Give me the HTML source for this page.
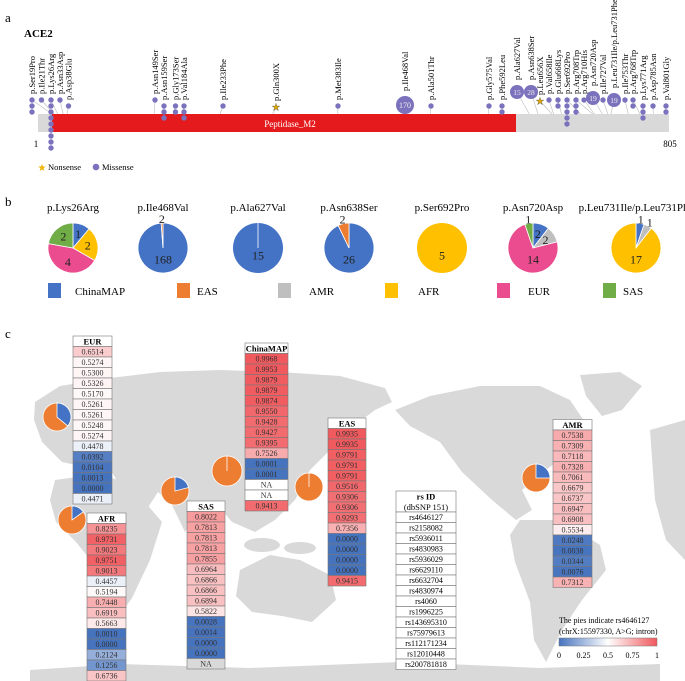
<!DOCTYPE html>
<html><head><meta charset="utf-8"><style>
html,body{margin:0;padding:0;background:#fff;}
svg{display:block;font-family:"Liberation Serif",serif;}
</style></head><body>
<svg id="fig" width="685" height="681" viewBox="0 0 685 681" xmlns="http://www.w3.org/2000/svg">
<g id="map" fill="#d9d9d9">
<polygon points="35,402 60,386 110,378 160,372 220,370 280,372 340,376 385,388 392,402 375,410 355,425 335,445 310,470 295,500 275,520 255,532 232,522 215,502 200,510 185,532 172,505 158,492 145,512 125,495 112,472 90,468 62,462 42,442 34,420"/>
<polygon points="55,480 100,474 130,484 150,508 162,522 150,560 132,598 115,622 102,600 92,562 76,542 56,522 50,500"/>
<polygon points="240,570 270,555 300,560 330,575 336,600 312,622 282,616 252,612 236,596"/>
<ellipse cx="262" cy="545" rx="18" ry="7"/><ellipse cx="300" cy="548" rx="16" ry="6"/>
<polygon points="395,410 430,396 480,386 540,386 570,400 590,430 572,450 546,470 522,490 532,510 516,520 492,500 462,472 440,442 410,426"/>
<polygon points="580,375 620,372 642,386 622,410 602,416 586,396"/>
<polygon points="520,520 560,520 600,545 606,570 582,600 562,630 546,662 534,640 530,602 515,562 510,535"/>
<polygon points="30,670 120,664 250,668 400,662 540,668 660,664 660,681 30,681"/>
<polygon points="650,430 685,420 685,560 666,540 655,500"/>
</g>
<g id="panelA"></g>
<g id="panelB"></g>
<g id="panelC"></g>
</svg>
<script>
const NS="http://www.w3.org/2000/svg";
function mk(parent,tag,attrs,text){const e=document.createElementNS(NS,tag);for(const k in attrs)e.setAttribute(k,attrs[k]);if(text!==undefined)e.textContent=text;parent.appendChild(e);return e;}

// ---------- Panel a data ----------
const mutLabels=["p.Ser19Pro","p.Ile21Thr","p.Lys26Arg","p.Asn33Asp","p.Asp38Glu","p.Asn149Ser","p.Asn159Ser","p.Gly173Ser","p.Val184Ala","p.Ile233Phe","p.Gln300X","p.Met383Ile","p.Ile468Val","p.Ala501Thr","p.Gly575Val","p.Phe592Leu","p.Ala627Val","p.Asn638Ser","p.Leu656X","p.Val658Ile","p.Glu668Lys","p.Ser692Pro","p.Arg708Trp","p.Arg710His","p.Asn720Asp","p.Ile727Val","p.Leu731Ile/p.Leu731Phe","p.Ile753Thr","p.Arg768Trp","p.Lys771Arg","p.Asp785Asn","p.Val801Gly"];
const mutPos=[19,21,26,33,38,149,159,173,184,233,300,383,468,501,575,592,627,638,656,658,668,692,708,710,720,727,731,753,768,771,785,801];
const mutCounts=[3,1,9,1,1,1,3,2,3,1,1,1,170,1,1,2,15,28,1,1,2,5,3,1,19,1,19,1,2,3,1,2];
const mutType=["m","m","m","m","m","m","m","m","m","m","n","m","m","m","m","m","m","m","n","m","m","m","m","m","m","m","m","m","m","m","m","m"];
const mutLayoutX=[32,41.5,51,60,68.5,155,164,175.5,184,223,276,338,405,431,489,502,517,531,540,549,558,567,576,584,593,603,614,625,633,643,653,666];
const mutTop=[100,100,100,100,106,100,106,106,106,106,107,106,105,106,106,106,92,92,101,100,100,100,100,100,98,100,100,100,100,106,106,106];
const protLen=805;
const pa=document.getElementById('panelA');
mk(pa,'text',{x:5,y:22,'font-size':13,},'a');
mk(pa,'text',{x:24,y:37,'font-size':11,'font-weight':'bold',},'ACE2');
const bx0=38,bx1=669;
function px(aa){return bx0+(aa-1)/(protLen-1)*(bx1-bx0);}
mk(pa,'rect',{x:bx0,y:114,width:bx1-bx0,height:18,fill:'#d9d9d9',});
mk(pa,'rect',{x:52,y:114,width:464,height:18,fill:'#e41a1c',});
mk(pa,'text',{x:290,y:127,'font-size':9,fill:'#fff','text-anchor':'middle',},'Peptidase_M2');
mk(pa,'text',{x:36,y:147,'font-size':9,'text-anchor':'middle',},'1');
mk(pa,'text',{x:670,y:147,'font-size':9,'text-anchor':'middle',},'805');
const purple='#7b72bd';
mutLabels.forEach((lab,i)=>{
  const x=mutLayoutX[i],y0=mutTop[i],c=mutCounts[i];
  const g=mk(pa,'g',{});
  
  
  mk(g,'line',{x1:x,y1:y0,x2:px(mutPos[i]),y2:114,stroke:'#bbb','stroke-width':0.6});
  let labBottom;
  if(mutType[i]==='n'){
    mk(g,'text',{x:x,y:y0+3.5,'font-size':10,fill:'#e0a800',stroke:'#555','stroke-width':0.3,'text-anchor':'middle'},'★');
    labBottom=y0-6;
  } else if(c>=10){
    const r=c>=100?9:7;
    mk(g,'circle',{cx:x,cy:y0,r:r,fill:purple});
    mk(g,'text',{x:x,y:y0+3,'font-size':r>8?8:7.5,fill:'#eee','text-anchor':'middle'},String(c));
    labBottom=y0-r-5;
  } else {
    for(let k=0;k<c;k++) mk(g,'circle',{cx:x,cy:y0+k*6,r:2.7,fill:purple});
    labBottom=y0-6;
  }
  mk(g,'text',{x:x+3,y:labBottom,'font-size':8.5,transform:`rotate(-90 ${x+3} ${labBottom})`},lab);
});
const lg=mk(pa,'g',{});


mk(lg,'text',{x:42,y:171,'font-size':10,fill:'#f0b400','text-anchor':'middle'},'★');
mk(lg,'text',{x:48,y:170,'font-size':8.5},'Nonsense');
mk(lg,'circle',{cx:96,cy:167,r:3.3,fill:purple});
mk(lg,'text',{x:102,y:170,'font-size':8.5},'Missense');

// ---------- Panel b data ----------
const popNames=["ChinaMAP","EAS","AMR","AFR","EUR","SAS"];
const popColors=["#4472c4","#ed7d31","#bfbfbf","#ffc000","#ea4c8f","#70ad47"];
const pieTitles=["p.Lys26Arg","p.Ile468Val","p.Ala627Val","p.Asn638Ser","p.Ser692Pro","p.Asn720Asp","p.Leu731Ile/p.Leu731Phe"];
const pieLys26=[1,0,0,2,4,2];
const pieIle468=[168,2,0,0,0,0];
const pieAla627=[15,0,0,0,0,0];
const pieAsn638=[26,2,0,0,0,0];
const pieSer692=[0,0,0,5,0,0];
const pieAsn720=[2,0,2,0,14,1];
const pieLeu731=[1,0,1,17,0,0];
const pieSets=[pieLys26,pieIle468,pieAla627,pieAsn638,pieSer692,pieAsn720,pieLeu731];
const pieCx=[73,163,258,349,442,533,636];
const pb=document.getElementById('panelB');
mk(pb,'text',{x:5,y:206,'font-size':13,},'b');
function arcPath(cx,cy,r,a0,a1){
  const p=a=>[cx+r*Math.sin(a),cy-r*Math.cos(a)];
  const [x0,y0]=p(a0),[x1,y1]=p(a1);
  return `M${cx},${cy}L${x0},${y0}A${r},${r} 0 ${a1-a0>Math.PI?1:0} 1 ${x1},${y1}Z`;
}
pieSets.forEach((vals,i)=>{
  const cx=pieCx[i],cy=248,r=25;
  const g=mk(pb,'g',{});
  
  
  mk(g,'text',{x:cx,y:211,'font-size':11,'text-anchor':'middle'},pieTitles[i]);
  const tot=vals.reduce((a,b)=>a+b,0);
  let a=0;const nz=vals.filter(v=>v>0).length;
  vals.forEach((v,k)=>{
    if(v<=0)return;
    const a1=a+v/tot*2*Math.PI;
    let s;
    if(nz===1) s=mk(g,'circle',{cx:cx,cy:cy,r:r,fill:popColors[k]});
    else s=mk(g,'path',{d:arcPath(cx,cy,r,a,a1),fill:popColors[k],stroke:'#fff','stroke-width':0.8});
    
    
    const mid=(a+a1)/2,frac=v/tot;
    const rr=frac<0.08?r+4:(nz===1?0:(frac>0.6?r*0.45:r*0.6));
    const ty=nz>1&&frac>0.6?cy+r*0.45:cy-rr*Math.cos(mid);
    const tx=nz>1&&frac>0.6?cx:cx+rr*Math.sin(mid);
    mk(g,'text',{x:tx,y:(nz===1?cy+r*0.3:ty)+4,'font-size':12,'text-anchor':'middle',fill:'#222'},String(v));
    a=a1;
  });
  if(i===2) mk(g,'line',{x1:cx,y1:cy,x2:cx,y2:cy-r,stroke:'#fff','stroke-width':0.8});
});
const legX=[48,177,278,385,497,603];
const legLabelX=[75,197,309,418,528,623];
popNames.forEach((n,k)=>{
  const g=mk(pb,'g',{});
  
  
  mk(g,'rect',{x:legX[k],y:283,width:13,height:15,fill:popColors[k]});
  mk(g,'text',{x:legLabelX[k],y:295,'font-size':11},n);
});

// ---------- Panel c data ----------
const eurVals=["0.6514","0.5274","0.5300","0.5326","0.5170","0.5261","0.5261","0.5248","0.5274","0.4478","0.0392","0.0104","0.0013","0.0000","0.4471"];
const chinaVals=["0.9968","0.9953","0.9879","0.9879","0.9874","0.9550","0.9428","0.9427","0.9395","0.7526","0.0001","0.0001","NA","NA","0.9413"];
const easVals=["0.9935","0.9935","0.9791","0.9791","0.9791","0.9516","0.9306","0.9306","0.9293","0.7356","0.0000","0.0000","0.0000","0.0000","0.9415"];
const afrVals=["0.8235","0.9731","0.9023","0.9751","0.9013","0.4457","0.5194","0.7448","0.6919","0.5663","0.0010","0.0000","0.2124","0.1256","0.6736"];
const sasVals=["0.8022","0.7813","0.7813","0.7813","0.7855","0.6964","0.6866","0.6866","0.6894","0.5822","0.0028","0.0014","0.0000","0.0000","NA"];
const amrVals=["0.7538","0.7309","0.7118","0.7328","0.7061","0.6679","0.6737","0.6947","0.6908","0.5534","0.0248","0.0038","0.0344","0.0076","0.7312"];
const rsIds=["rs4646127","rs2158082","rs5936011","rs4830983","rs5936029","rs6629110","rs6632704","rs4830974","rs4060","rs1996225","rs143695310","rs75979613","rs112171234","rs12010448","rs200781818"];
const tableNames=["EUR","ChinaMAP","EAS","AFR","SAS","AMR"];
const tableVals=[eurVals,chinaVals,easVals,afrVals,sasVals,amrVals];
const tableBox=[[73,336,39],[245,343,43],[328,418,38],[87,513,39],[187,501,38],[553,419.5,39]];
const mapPieFrac=[0.36,0.0,0.0,0.15,0.21,0.25];
const mapPiePos=[[57,417,14],[227,471,15],[309,487,14],[72,520,14],[175,491,14],[536,478,14]];
const pc=document.getElementById('panelC');
mk(pc,'text',{x:5,y:338,'font-size':13,},'c');
const RH=10.5;
function cellColor(v){
  const blue=[70,115,190],white=[255,255,255],red=[240,88,92];
  let a,b,t;
  if(v<0.5){a=blue;b=white;t=v/0.5;}else{a=white;b=red;t=(v-0.5)/0.5;}
  return `rgb(${a.map((c,i)=>Math.round(c+(b[i]-c)*t)).join(',')})`;
}
mapPieFrac.forEach((f,i)=>{
  const [cx,cy,r]=mapPiePos[i];
  const g=mk(pc,'g',{});
  
  
  mk(g,'circle',{cx:cx,cy:cy,r:r,fill:'#ed7d31',stroke:'#fff','stroke-width':0.8});
  if(f>0) mk(g,'path',{d:arcPath(cx,cy,r,0,f*2*Math.PI),fill:'#4472c4',stroke:'#fff','stroke-width':0.8});
  else mk(g,'line',{x1:cx,y1:cy,x2:cx,y2:cy-r,stroke:'#fff','stroke-width':0.8});
});
tableVals.forEach((vals,i)=>{
  const [x,y,w]=tableBox[i];
  const g=mk(pc,'g',{});
  
  
  mk(g,'rect',{x:x,y:y,width:w,height:RH,fill:'#fff',stroke:'#777','stroke-width':0.6});
  mk(g,'text',{x:x+w/2,y:y+8.3,'font-size':8.5,'font-weight':'bold','text-anchor':'middle'},tableNames[i]);
  vals.forEach((s,k)=>{
    const v=parseFloat(s);
    const fill=s==='NA'?(i===4?'#d9d9d9':'#fff'):cellColor(v);
    const cell=mk(g,'rect',{x:x,y:y+RH*(k+1),width:w,height:RH,fill:fill,stroke:'#777','stroke-width':0.6});
    
    
    mk(g,'text',{x:x+w/2,y:y+RH*(k+1)+8,'font-size':8,'text-anchor':'middle',fill:'#333'},s);
  });
});
(function(){
  const x=396,y=491,w=60;
  const g=mk(pc,'g',{});
  
  
  mk(g,'rect',{x:x,y:y,width:w,height:RH*2,fill:'#fff',stroke:'#777','stroke-width':0.6});
  mk(g,'text',{x:x+w/2,y:y+8.5,'font-size':8.5,'font-weight':'bold','text-anchor':'middle'},'rs ID');
  mk(g,'text',{x:x+w/2,y:y+19,'font-size':8.5,'text-anchor':'middle'},'(dbSNP 151)');
  rsIds.forEach((s,k)=>{
    const yy=y+RH*(k+2);
    mk(g,'rect',{x:x,y:yy,width:w,height:RH,fill:'#fff',stroke:'#777','stroke-width':0.6});
    mk(g,'text',{x:x+w/2,y:yy+8,'font-size':8,'text-anchor':'middle'},s);
  });
})();
const scaleTicks=["0","0.25","0.5","0.75","1"];
(function(){
  const g=mk(pc,'g',{});
  
  
  mk(g,'text',{x:559,y:623,'font-size':8},'The pies indicate rs4646127');
  mk(g,'text',{x:559,y:634,'font-size':8},'(chrX:15597330, A>G; intron)');
  const defs=mk(g,'defs',{});
  const lgd=mk(defs,'linearGradient',{id:'ldgrad',x1:0,x2:1,y1:0,y2:0});
  mk(lgd,'stop',{offset:'0','stop-color':cellColor(0)});
  mk(lgd,'stop',{offset:'0.5','stop-color':'#fff'});
  mk(lgd,'stop',{offset:'1','stop-color':cellColor(1)});
  mk(g,'rect',{x:559,y:638,width:98,height:8,fill:'url(#ldgrad)',stroke:'#777','stroke-width':0.5});
  scaleTicks.forEach((t,k)=>{
    mk(g,'text',{x:559+k*98/4,y:658,'font-size':8,'text-anchor':'middle'},t);
  });
})();
</script>
</body></html>
